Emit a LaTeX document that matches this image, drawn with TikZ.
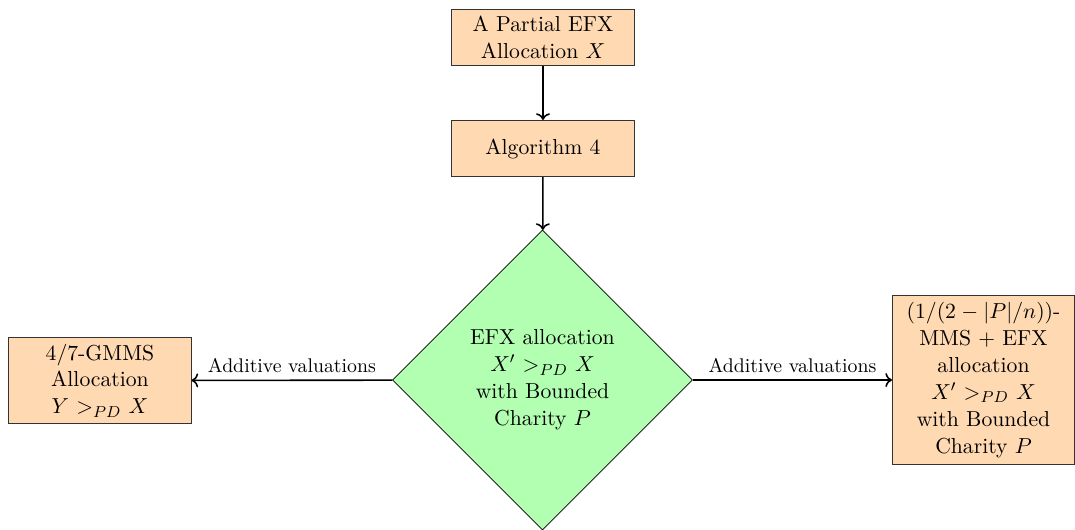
\documentclass[tikz,border=0pt]{standalone}
\usetikzlibrary{shapes.geometric,arrows.meta}
\begin{document}
\begin{tikzpicture}[x=0.505pt,y=-0.505pt,
  bigfont/.style={font=\fontsize{10.95pt}{13.6pt}\selectfont},
  box/.style={draw=black!80,fill=orange!30,text width=3cm,align=center,minimum height=1cm,bigfont},
  dec/.style={draw=black,fill=green!30,diamond,aspect=1,minimum width=151.5pt,minimum height=151.5pt,text width=2.6cm,align=center,inner sep=0pt,bigfont},
  conn/.style={thick,->},
  lbl/.style={above,font=\fontsize{10pt}{12pt}\selectfont}]
\useasboundingbox (0,0) rectangle (1075,529);
\node[box] (top) at (543,37.5) {A Partial EFX\\ Allocation $X$};
\node[box] (alg) at (543,148.5) {Algorithm 4};
\node[dec] (dia) at (542.5,380) {EFX allocation\\ $X'$ $>_{PD}$ $X$\\ with Bounded\\ Charity $P$};
\node[box] (left) at (100,380.5) {4/7-GMMS\\ Allocation\\ $Y$ $>_{PD}$ $X$};
\node[box] (right) at (983.5,380) {$(1/(2-|P|/n))$-\\ MMS + EFX\\ allocation\\ $X'$ $>_{PD}$ $X$\\ with Bounded\\ Charity $P$};
\draw[conn] (top) -- (alg);
\draw[conn] (alg) -- (dia);
\draw[conn] (dia) -- node[lbl] {Additive valuations} (left);
\draw[conn] (dia) -- node[lbl] {Additive valuations} (right);
\end{tikzpicture}
\end{document}
